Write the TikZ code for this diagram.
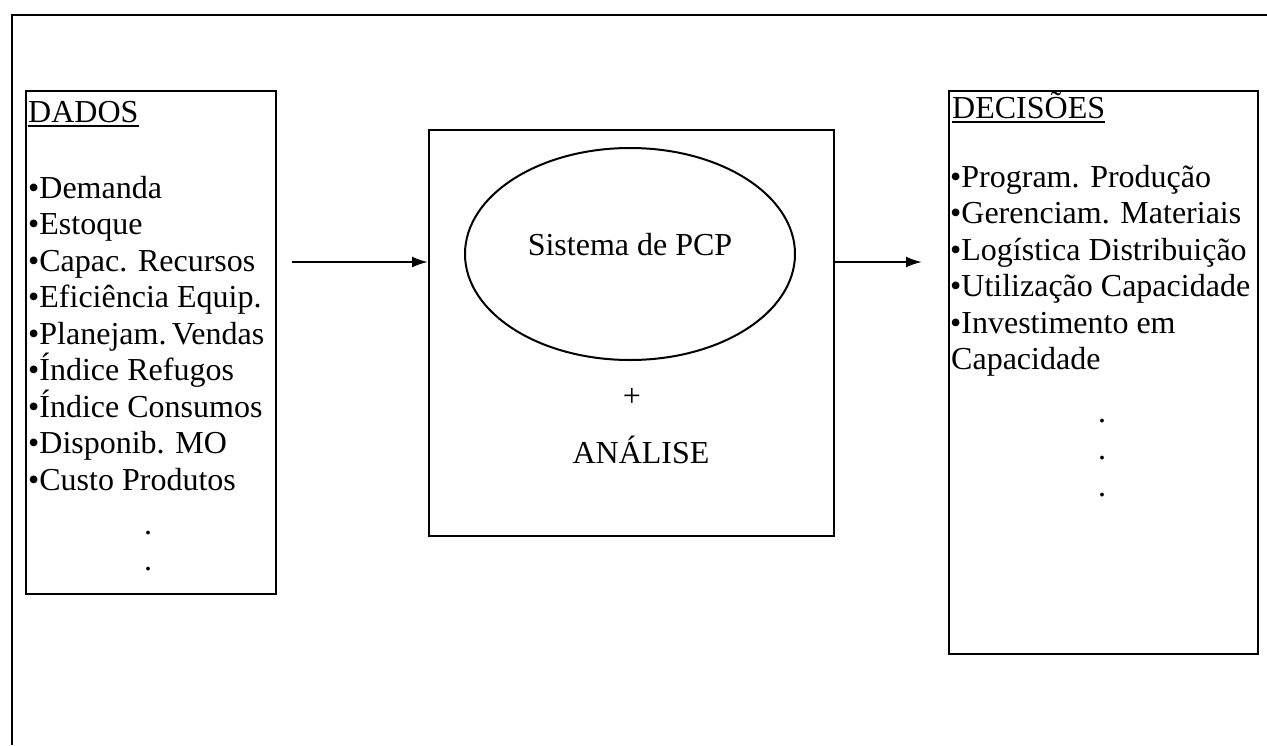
\documentclass[tikz,border=0pt]{standalone}
\usepackage{fontspec}
\setmainfont{Liberation Serif}
\usetikzlibrary{shapes.geometric,arrows.meta}
\begin{document}
\begin{tikzpicture}[x=1pt,y=-1pt,
  font=\fontsize{32}{36.5}\selectfont,
  box/.style={draw, line width=2.2pt, inner sep=0pt, anchor=north west},
  txt/.style={inner sep=0pt, anchor=base west},
  ctxt/.style={inner sep=0pt, anchor=base},
  arr/.style={line width=2.2pt, -{Latex[length=16pt,width=11pt]}},
  uline/.style={line width=1.8pt}]
\useasboundingbox (0,0) rectangle (1267,745);
% outer frame
\draw[line width=2.5pt] (12,745) -- (12,15) -- (1267,15);
% boxes
\node[box, minimum width=250pt, minimum height=503pt] (dados) at (25,90) {};
\node[box, minimum width=405pt, minimum height=406pt] (pcp) at (428,129) {};
\node[box, minimum width=309pt, minimum height=563pt] (dec) at (948,90) {};
\node[draw, ellipse, line width=2pt, minimum width=330pt, minimum height=212pt, inner sep=0pt] (sis) at (630,254) {};
% left list
\node[txt] (dadosT) at (28,122) {DADOS};
\draw[uline] ([yshift=-4pt]dadosT.base west) -- ([yshift=-4pt]dadosT.base east);
\foreach \t [count=\i] in {Demanda, Estoque, Capac. Recursos, Eficiência Equip., {Planejam.\,Vendas}, Índice Refugos, Índice Consumos, Disponib. MO, Custo Produtos}
  \node[txt] (d\i) at ({28},{198+36.5*(\i-1)}) {•\t};
\node[txt] (ddot1) at (144,534) {.};
\node[txt] (ddot2) at (144,570) {.};
% right list
\node[txt] (decT) at (952,118) {DECISÕES};
\draw[uline] ([yshift=-4pt]decT.base west) -- ([yshift=-4pt]decT.base east);
\foreach \t [count=\i] in {Program. Produção, Gerenciam. Materiais, Logística Distribuição, Utilização Capacidade, Investimento em}
  \node[txt] (e\i) at ({950},{187+36.5*(\i-1)}) {•\t};
\node[txt] (e6) at (951,{187+36.5*5}) {Capacidade};
\node[txt] (edot1) at (1098,422) {.};
\node[txt] (edot2) at (1098,459) {.};
\node[txt] (edot3) at (1098,496) {.};
% center texts
\node[ctxt] (sist) at (630,255) {Sistema de PCP};
\node[inner sep=0pt] (plus) at (632,397) {+};
\node[ctxt] (anal) at (641,463) {ANÁLISE};
% arrows
\coordinate (ay) at (0,262);
\draw[arr, shorten <=15pt] (dados.east |- ay) -- (pcp.west |- ay);
\draw[arr, shorten >=26pt] (pcp.east |- ay) -- (dec.west |- ay);
\end{tikzpicture}
\end{document}
